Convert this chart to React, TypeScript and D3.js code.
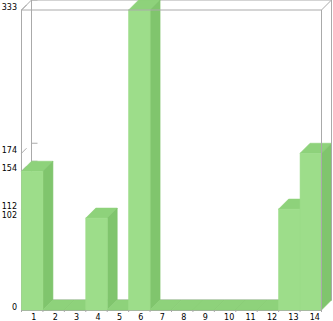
import React, { useEffect } from "react";
import * as d3 from "d3";

const categories = ["1", "2", "3", "4", "5", "6", "7", "8", "9", "10", "11", "12", "13", "14"];
const values = [154, 0, 0, 102, 0, 333, 0, 0, 0, 0, 0, 0, 112, 174];
const yTickValues = [0, 102, 112, 154, 174, 333];

const W = 333;
const H = 321;
const DEPTH = 10;
const FRONT = "#9ddd8a";
const SIDE = "#80c56d";
const TOP = "#8ed27b";
const GRID = "#aaaaaa";
const FONT = "'DejaVu Sans', Verdana, sans-serif";

export default function App() {
  useEffect(() => {
    document.body.style.margin = "0";
  }, []);

  const x = d3.scaleBand<string>().domain(categories).range([21.5, 321.5]).padding(0);
  const y = d3.scaleLinear().domain([0, 333]).range([310, 10]);
  const bw = x.bandwidth();
  const x0 = 21.5, x1 = 321.5, yTop = y(333), yBot = y(0);
  const d = DEPTH;

  const poly = (pts: [number, number][]) => pts.map((p) => p.join(",")).join(" ");

  return (
    <svg width={W} height={H} style={{ position: "absolute", left: 0, top: 0, display: "block" }}>
      {/* back wall */}
      <rect x={x0 + d} y={yTop - d} width={x1 - x0} height={yBot - yTop} fill="none" stroke={GRID} strokeWidth={1} />
      {/* left front vertical */}
      <line x1={x0} y1={yTop} x2={x0} y2={yBot} stroke={GRID} />
      <line x1={x0} y1={yTop} x2={x0 + d} y2={yTop - d} stroke={GRID} />
      {/* y ticks */}
      {yTickValues.map((v) => (
        <g key={v}>
          <line x1={x0 + d} y1={y(v) - d} x2={x0 + d + 6} y2={y(v) - d} stroke={GRID} />
          <line x1={x0} y1={y(v)} x2={x0 + 5} y2={y(v) - 5} stroke={GRID} />
        </g>
      ))}
      {/* baseline */}
      <line x1={x0} y1={yBot + 0.5} x2={x1} y2={yBot + 0.5} stroke={GRID} />
      {/* bars */}
      {categories.map((c, i) => {
        const bx = x(c)!;
        const top = y(values[i]);
        return (
          <g key={c}>
            <polygon points={poly([[bx, top], [bx + d, top - d], [bx + bw + d, top - d], [bx + bw, top]])} fill={TOP} stroke={TOP} strokeWidth={0.6} />
            <polygon points={poly([[bx + bw, top], [bx + bw + d, top - d], [bx + bw + d, yBot - d], [bx + bw, yBot]])} fill={SIDE} stroke={SIDE} strokeWidth={0.6} />
            <rect x={bx} y={top} width={bw} height={yBot - top} fill={FRONT} stroke={FRONT} strokeWidth={0.6} />
          </g>
        );
      })}
      {/* frame over bars */}
      <line x1={x0} y1={yTop} x2={x1} y2={yTop} stroke={GRID} />
      <line x1={x1} y1={yTop} x2={x1} y2={yBot} stroke={GRID} />
      <line x1={x1} y1={yTop} x2={x1 + d} y2={yTop - d} stroke={GRID} />
      <line x1={x1 + d} y1={yTop - d} x2={x1 + d} y2={yBot - d} stroke={GRID} />
      {/* x ticks */}
      {categories.map((c) => (
        <line key={c} x1={x(c)!} y1={yBot} x2={x(c)!} y2={yBot + 2} stroke={GRID} />
      ))}
      <line x1={x1} y1={yBot} x2={x1} y2={yBot + 2} stroke={GRID} />
      {/* x labels */}
      {categories.map((c) => (
        <text key={c} x={x(c)! + bw / 2 - 1} y={320} fontSize={8} fontFamily={FONT} fill="#000">
          {c}
        </text>
      ))}
      {/* y labels */}
      {yTickValues.map((v) => (
        <text key={v} x={17} y={y(v) - 3} dy="0.35em" textAnchor="end" fontSize={8} fontFamily={FONT} fill="#000">
          {v}
        </text>
      ))}
    </svg>
  );
}
